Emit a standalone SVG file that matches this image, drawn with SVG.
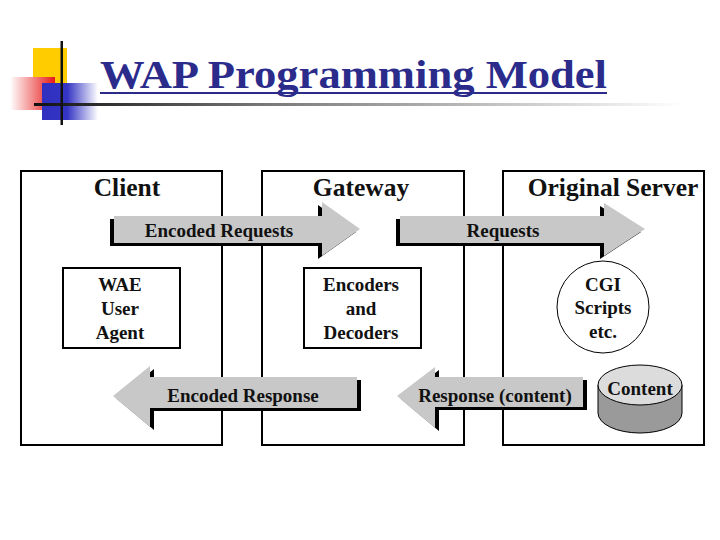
<svg xmlns="http://www.w3.org/2000/svg" width="720" height="540" viewBox="0 0 720 540">
<defs>
<linearGradient id="redG" x1="0" y1="0" x2="1" y2="0">
<stop offset="0" stop-color="#ffffff"/>
<stop offset="1" stop-color="#e81818"/>
</linearGradient>
<linearGradient id="blueG" x1="0" y1="0" x2="1" y2="0">
<stop offset="0" stop-color="#2f2fc0"/>
<stop offset="0.45" stop-color="#3535c4"/>
<stop offset="1" stop-color="#ffffff"/>
</linearGradient>
<linearGradient id="lineG" x1="0" y1="0" x2="1" y2="0">
<stop offset="0" stop-color="#111111"/>
<stop offset="0.35" stop-color="#777777"/>
<stop offset="1" stop-color="#ffffff"/>
</linearGradient>
<style>
.box{fill:#ffffff;stroke:#000000;stroke-width:2}
.ttl{font-family:"Liberation Serif","Times New Roman",serif;font-weight:bold;font-size:25.5px;fill:#111111;text-anchor:middle}
.lbl{font-family:"Liberation Serif","Times New Roman",serif;font-weight:bold;font-size:19px;fill:#111111;text-anchor:middle}
.arr{fill:#c8c8c8}
.sh{fill:#000000}
</style>
</defs>
<rect width="720" height="540" fill="#ffffff"/>

<g id="title-decoration">
<rect x="33" y="48" width="34" height="40" fill="#ffcc00"/>
<rect x="10" y="77" width="45" height="33" fill="url(#redG)"/>
<rect x="42" y="83" width="56" height="37" fill="url(#blueG)"/>
<rect x="34" y="103" width="650" height="3" fill="url(#lineG)"/>
<rect x="60.5" y="41" width="2.5" height="84" fill="#111111"/>
</g>
<g id="title">
<text x="100" y="88" font-family="'Liberation Serif','Times New Roman',serif" font-weight="bold" font-size="40" fill="#2b2b8c" textLength="507" lengthAdjust="spacingAndGlyphs">WAP Programming Model</text>
<rect x="100" y="92" width="507" height="2" fill="#2b2b8c"/>
</g>

<g id="client">
<rect class="box" x="21" y="171" width="201" height="274"/>
<text class="ttl" x="127" y="196">Client</text>
</g>
<g id="gateway">
<rect class="box" x="262" y="171" width="202" height="274"/>
<text class="ttl" x="361" y="196">Gateway</text>
</g>
<g id="server">
<rect class="box" x="503" y="171" width="201" height="274"/>
<text class="ttl" x="613" y="196">Original Server</text>
</g>

<g id="wae-user-agent">
<rect class="box" x="63" y="268" width="117" height="80"/>
<text class="lbl" x="120" y="291">WAE</text>
<text class="lbl" x="120" y="315">User</text>
<text class="lbl" x="120" y="339">Agent</text>
</g>
<g id="encoders-decoders">
<rect class="box" x="304" y="268" width="117" height="80"/>
<text class="lbl" x="361" y="291">Encoders</text>
<text class="lbl" x="361" y="315">and</text>
<text class="lbl" x="361" y="339">Decoders</text>
</g>
<g id="cgi-scripts">
<circle cx="603" cy="307" r="46" fill="#ffffff" stroke="#000000" stroke-width="1"/>
<text class="lbl" x="603" y="291">CGI</text>
<text class="lbl" x="603" y="314">Scripts</text>
<text class="lbl" x="603" y="338">etc.</text>
</g>
<g id="content">
<path d="M598,385 L598,413 A42,20 0 0 0 682,413 L682,385 Z" fill="#9a9a9a" stroke="#000000" stroke-width="1"/>
<ellipse cx="640" cy="385" rx="42" ry="20" fill="#dcdcdc" stroke="#000000" stroke-width="1"/>
<text class="lbl" x="640" y="395">Content</text>
</g>

<g id="connectors">
<g id="encoded-requests">
<polygon class="sh" transform="translate(-4,3)" points="114,216 322,216 322,202 360,229 322,256 322,243 114,243"/>
<polygon class="arr" points="114,216 322,216 322,202 360,229 322,256 322,243 114,243"/>
<text class="lbl" x="219" y="237">Encoded Requests</text>
</g>
<g id="requests">
<polygon class="sh" transform="translate(-4,3)" points="400,216 604,216 604,203 645,229 604,256 604,243 400,243"/>
<polygon class="arr" points="400,216 604,216 604,203 645,229 604,256 604,243 400,243"/>
<text class="lbl" x="503" y="237">Requests</text>
</g>
<g id="encoded-response">
<polygon class="sh" transform="translate(4,3)" points="357,377 150,377 150,366 113,396 150,427 150,408 357,408"/>
<polygon class="arr" points="357,377 150,377 150,366 113,396 150,427 150,408 357,408"/>
<text class="lbl" x="243" y="402">Encoded Response</text>
</g>
<g id="response-content">
<polygon class="sh" transform="translate(4,3)" points="583,377 435,377 435,367 397,396 435,428 435,407 583,407"/>
<polygon class="arr" points="583,377 435,377 435,367 397,396 435,428 435,407 583,407"/>
<text class="lbl" x="495" y="402">Response (content)</text>
</g>
</g>
</svg>
